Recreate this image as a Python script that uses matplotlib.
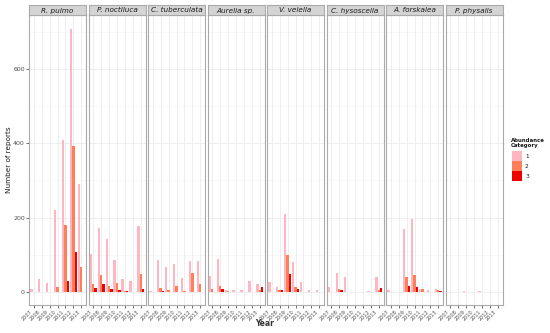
import matplotlib
matplotlib.use("Agg")
import matplotlib.pyplot as plt
import numpy as np

years = ["2007", "2008", "2009", "2010", "2011", "2012", "2013"]
species = ["R. pulmo", "P. noctiluca", "C. tuberculata", "Aurelia sp.",
           "V. velella", "C. hysoscella", "A. forskalea", "P. physalis"]
categories = ["1", "2", "3"]
colors = ["#FFB6C1", "#FF7F5A", "#EE0000"]

# values per species: [cat1 list, cat2 list, cat3 list] over years 2007..2013
r_pulmo = [[8, 34, 24, 220, 410, 708, 291],
           [0, 0, 0, 12, 181, 394, 68],
           [0, 0, 0, 0, 30, 108, 0]]
p_noctiluca = [[101, 172, 143, 86, 35, 30, 178],
               [21, 45, 15, 24, 2, 0, 48],
               [10, 21, 8, 5, 1, 0, 8]]
c_tuberculata = [[3, 86, 68, 75, 36, 82, 84],
                 [0, 10, 5, 17, 3, 51, 20],
                 [0, 2, 0, 0, 0, 0, 0]]
aurelia = [[42, 88, 6, 5, 6, 28, 20],
           [8, 15, 2, 0, 0, 0, 6],
           [0, 8, 0, 0, 0, 0, 14]]
v_velella = [[26, 12, 210, 81, 26, 4, 4],
             [0, 5, 100, 14, 0, 0, 0],
             [0, 4, 48, 8, 0, 0, 0]]
c_hysoscella = [[12, 52, 39, 0, 0, 3, 41],
                [0, 8, 0, 0, 0, 0, 6],
                [0, 5, 0, 0, 0, 0, 10]]
a_forskalea = [[5, 0, 170, 195, 8, 5, 8],
               [0, 0, 39, 45, 8, 0, 4],
               [0, 0, 15, 12, 0, 0, 3]]
p_physalis = [[0, 0, 1, 0, 1, 0, 0],
              [0, 0, 0, 0, 0, 0, 0],
              [0, 0, 0, 0, 0, 0, 0]]
data = [r_pulmo, p_noctiluca, c_tuberculata, aurelia,
        v_velella, c_hysoscella, a_forskalea, p_physalis]

W, H = 550, 333
fig = plt.figure(figsize=(W / 100, H / 100), dpi=100)
fig.patch.set_facecolor("white")

def fx(px):
    return px / W

def fy(py):
    return 1 - py / H

panel_top, panel_bot = 15, 305
strip_top = 5
x = np.arange(len(years))
bw = 0.3
ymax_data = 710
ylim = (-0.05 * ymax_data, 1.05 * ymax_data)

for i, (sp, vals) in enumerate(zip(species, data)):
    left = 29 + 59.5 * i
    width = 57
    ax = fig.add_axes([fx(left), fy(panel_bot), fx(width), (panel_bot - panel_top) / H])
    ax.set_facecolor("white")
    for y in [100, 300, 500, 700]:
        ax.axhline(y, color="#F4F4F4", lw=0.4, zorder=0)
    for y in [0, 200, 400, 600]:
        ax.axhline(y, color="#EBEBEB", lw=0.6, zorder=0)
    for xi in x:
        ax.axvline(xi, color="#EBEBEB", lw=0.6, zorder=0)
    for c in range(3):
        ax.bar(x + (c - 1) * bw, vals[c], width=bw, color=colors[c], zorder=2, linewidth=0)
    ax.set_xlim(-0.6, len(years) - 0.4)
    ax.set_ylim(*ylim)
    ax.set_xticks(x)
    ax.set_xticklabels(years, rotation=45, ha="right", va="top", fontsize=3.6, color="#4D4D4D")
    ax.set_yticks([0, 200, 400, 600])
    if i == 0:
        ax.set_yticklabels(["0", "200", "400", "600"], fontsize=4.5, color="#4D4D4D")
    else:
        ax.set_yticklabels([])
    ax.tick_params(axis="both", width=0.5, length=2, color="#333333", pad=1)
    if i != 0:
        ax.tick_params(axis="y", length=0)
    for s in ax.spines.values():
        s.set_color("#AAAAAA")
        s.set_linewidth(0.8)
    # strip
    sax = fig.add_axes([fx(left), fy(panel_top), fx(width), (panel_top - strip_top) / H])
    sax.set_facecolor("#D4D4D4")
    sax.set_xticks([])
    sax.set_yticks([])
    for s in sax.spines.values():
        s.set_color("#AAAAAA")
        s.set_linewidth(0.8)
    sax.text(0.5, 0.45, sp, ha="center", va="center", fontsize=5.2,
             style="italic", color="#1A1A1A", transform=sax.transAxes)

fig.text(fx(265), fy(324), "Year", ha="center", va="center", fontsize=5.5,
         fontweight="bold", color="#333333")
fig.text(fx(9), fy(160), "Number of reports", ha="center", va="center",
         rotation=90, fontsize=5.2, color="#1A1A1A")

# legend
fig.text(fx(511), fy(143), "Abundance\nCategory", ha="left", va="center",
         fontsize=3.9, fontweight="bold", color="#1A1A1A", linespacing=1.0)
for k, (lab, col) in enumerate(zip(categories, colors)):
    top = 151 + 10 * k
    kax = fig.add_axes([fx(512), fy(top + 10), fx(10), 10 / H])
    kax.set_facecolor(col)
    kax.set_xticks([])
    kax.set_yticks([])
    for s in kax.spines.values():
        s.set_visible(False)
    fig.text(fx(525), fy(top + 5), lab, ha="left", va="center", fontsize=4.2, color="#1A1A1A")

fig.savefig("out.png", dpi=100, facecolor="white")
